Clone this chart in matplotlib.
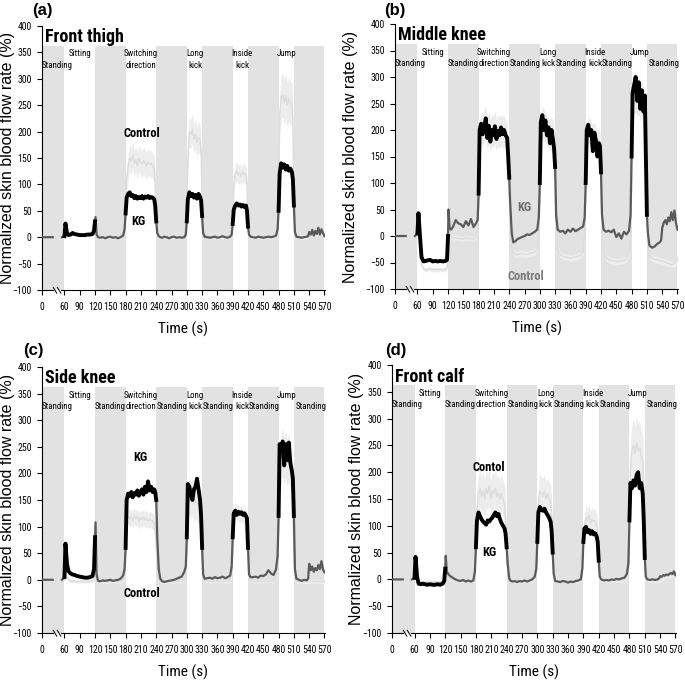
"""
Skin blood flow rate during standing / sitting / exercise for four measuring sites,
KG compared with the control garment.
"""
import numpy as np
import matplotlib
matplotlib.use('Agg')
import matplotlib.pyplot as plt
from matplotlib import font_manager as fm

names = {f.name for f in fm.fontManager.ttflist}
NARROW, NSCALE = 'Liberation Sans', 0.82
for cand in ['Liberation Sans Narrow', 'Roboto Condensed', 'Open Sans Condensed', 'Arial Narrow']:
    if cand in names:
        NARROW, NSCALE = cand, 1.0
        break
REGULAR = 'Liberation Sans'
nan = np.nan

# time grid (s), one chunk per protocol segment (the start of the record is on a broken axis)
T_CHUNKS = [
    [16, 37, 45, 55],
    [60, 62, 65, 68, 72, 76, 80, 85, 90, 95, 100, 105, 110, 115, 118, 120],
    [121, 123, 126, 130, 135, 140, 145, 150, 155, 160, 165, 170, 175, 178, 180],
    [182, 185, 188, 191, 194, 197, 200, 203, 206, 209, 212, 215, 218, 221, 224, 227, 230, 233, 236, 238, 240],
    [242, 245, 248, 252, 256, 260, 265, 270, 275, 280, 285, 290, 295, 298, 300],
    [302, 305, 308, 311, 314, 317, 320, 323, 326, 328, 330],
    [332, 335, 340, 345, 350, 355, 360, 365, 370, 375, 380, 385, 388, 390],
    [392, 395, 398, 401, 404, 407, 410, 413, 416, 418, 420],
    [422, 425, 430, 435, 440, 445, 450, 455, 460, 465, 470, 475, 478, 480],
    [482, 485, 488, 491, 494, 497, 500, 503, 506, 508, 510],
    [512, 515, 520, 525, 530, 535, 538, 540, 543, 546, 549, 552, 555, 558, 561, 564, 567, 570],
]

SEG_EDGES = [16, 60, 120, 180, 240, 300, 330, 390, 420, 480, 510, 571]
SEG_NAMES = ['Standing', 'Sitting', 'Standing', 'Switching\ndirection', 'Standing',
             'Long\nkick', 'Standing', 'Inside\nkick', 'Standing', 'Jump', 'Standing']
SEG_LABEL_X = [45, 90, 150, 210, 272, 316, 362, 408, 452, 496, 543]

TITLES = ['Front thigh', 'Middle knee', 'Side knee', 'Front calf']
TAGS = ['(a)', '(b)', '(c)', '(d)']

# normalized skin blood flow rate (%), KG
KG_A = [
    [0, 0, nan, 0],
    [2, 26, 8, 4, 5, 8, 6, 5, 4, 4, 4, 5, 5, 6, 12, 30],
    [38, 5, 0, -1, 0, -2, 0, 1, -1, 0, -2, 0, 3, 15, 45],
    [75, 82, 85, 78, 80, 74, 78, 73, 76, 74, 78, 73, 77, 75, 78, 74, 76, 75, 72, 60, 30],
    [8, 2, 0, -1, 1, 0, -2, 0, 1, -1, 0, -1, 0, 5, 30],
    [72, 85, 78, 82, 75, 80, 73, 82, 76, 70, 40],
    [8, 1, 0, -1, 0, 1, -1, 0, 2, 0, -1, 1, 5, 25],
    [52, 60, 64, 60, 62, 58, 61, 57, 60, 50, 20],
    [5, 1, 0, -1, 1, 0, -1, 0, 1, 0, 1, 3, 15, 50],
    [120, 140, 132, 138, 128, 135, 126, 130, 124, 110, 60],
    [10, 1, 0, -1, 0, 1, 2, 10, 5, 14, 3, 12, 6, 18, 5, 15, 8, 2],
]
KG_B = [
    [0, 0, nan, 0],
    [5, 43, 0, -40, -48, -47, -46, -45, -48, -47, -48, -47, -48, -47, -45, 0],
    [50, 15, 12, 18, 30, 24, 22, 17, 28, 20, 32, 17, 24, 30, 80],
    [200, 212, 192, 205, 222, 185, 208, 178, 200, 190, 207, 183, 198, 190, 205, 192, 200, 190, 185, 150, 110],
    [60, 5, -12, -10, -6, -4, -2, 0, 3, 2, 5, 8, 12, 35, 100],
    [215, 228, 200, 218, 190, 205, 175, 200, 180, 165, 130],
    [40, 12, 8, 10, 5, 12, 8, 14, 9, 12, 15, 18, 35, 100],
    [200, 210, 190, 200, 160, 195, 180, 150, 175, 170, 120],
    [40, 12, 8, 10, 7, 12, -2, 5, -5, 8, 3, 10, 40, 150],
    [270, 285, 300, 255, 290, 240, 275, 235, 265, 150, 40],
    [5, -18, -22, -20, -15, -12, -8, 15, 25, 30, 22, 35, 28, 45, 30, 48, 25, 12],
]
KG_C = [
    [0, 0, nan, 0],
    [5, 68, 30, 16, 12, 10, 9, 7, 6, 5, 4, 4, 5, 7, 20, 80],
    [108, 10, -2, -3, -1, -2, -1, 0, -2, -1, 0, 2, 8, 20, 60],
    [150, 162, 158, 165, 155, 163, 160, 168, 158, 165, 170, 160, 175, 165, 185, 168, 175, 165, 170, 165, 150],
    [80, 20, 2, -3, -4, -3, -2, -1, 0, 2, 4, 6, 15, 25, 80],
    [180, 175, 160, 150, 170, 175, 190, 170, 150, 120, 60],
    [10, 2, 3, 4, 2, 5, 3, 4, 6, 3, 5, 8, 25, 80],
    [125, 130, 122, 128, 124, 127, 122, 125, 120, 115, 60],
    [10, 5, 5, 6, 4, 8, 7, 10, 18, 12, 9, 20, 45, 120],
    [255, 240, 260, 215, 255, 225, 258, 220, 205, 190, 120],
    [20, 2, 0, -2, 0, -1, 2, 30, 18, 25, 15, 22, 18, 28, 20, 35, 20, 14],
]
KG_D = [
    [0, 0, nan, 0],
    [3, 42, 5, -8, -9, -8, -9, -10, -9, -10, -10, -9, -10, -8, -3, 20],
    [44, 15, 10, 6, 3, 0, -2, -3, -1, -4, -2, -4, -2, 15, 60],
    [110, 125, 118, 112, 108, 105, 102, 110, 108, 112, 115, 120, 125, 118, 122, 112, 105, 100, 95, 85, 60],
    [30, 2, -3, -4, -3, -5, -3, -4, -2, -4, -2, 0, 5, 20, 70],
    [125, 135, 130, 128, 132, 125, 120, 115, 108, 90, 50],
    [10, -3, -4, -5, -3, -4, -6, -4, -5, -3, -2, 0, 20, 70],
    [95, 98, 88, 92, 85, 90, 84, 86, 80, 70, 35],
    [5, 0, -2, -1, -2, 0, -1, 1, 0, 2, 3, 10, 30, 110],
    [180, 170, 185, 175, 195, 200, 170, 180, 160, 110, 40],
    [5, 0, -1, 0, -1, 0, 2, 6, 5, 8, 7, 9, 8, 10, 12, 10, 15, 8],
]

# control garment (mean) and its spread per segment
CTL_A = [
    [nan, nan, nan, nan],
    [0, 20, 8, 5, 5, 6, 5, 5, 4, 4, 4, 4, 5, 5, 10, 25],
    [30, 5, 0, 0, 0, 0, 0, 0, 0, 0, 0, 0, 2, 20, 60],
    [110, 135, 150, 145, 155, 140, 148, 135, 150, 142, 138, 145, 140, 135, 142, 138, 140, 135, 130, 100, 40],
    [10, 3, 0, 0, 0, 0, 0, 0, 0, 0, 0, 0, 2, 8, 40],
    [150, 200, 195, 205, 185, 195, 180, 190, 185, 160, 60],
    [10, 2, 0, 0, 0, 0, 0, 0, 0, 0, 0, 0, 8, 30],
    [100, 120, 125, 118, 122, 115, 124, 118, 120, 100, 30],
    [8, 2, 0, 0, 0, 0, 0, 0, 0, 0, 0, 2, 20, 80],
    [230, 265, 270, 255, 268, 250, 262, 255, 250, 220, 80],
    [12, 3, 0, 0, 0, 0, 0, 2, 4, 6, 4, 8, 5, 10, 6, 9, 7, 4],
]
CTL_B = [
    [nan, nan, nan, nan],
    [0, 20, -20, -55, -62, -64, -63, -62, -64, -63, -64, -63, -64, -63, -60, -20],
    [30, 5, 0, -5, -3, -5, -4, -6, -3, -5, -4, -6, -2, 10, 60],
    [190, 205, 200, 210, 215, 195, 205, 190, 200, 195, 205, 190, 200, 195, 200, 195, 198, 190, 180, 140, 80],
    [20, -20, -32, -35, -35, -34, -33, -35, -34, -33, -32, -30, -25, 0, 80],
    [200, 215, 210, 205, 200, 195, 190, 195, 185, 170, 120],
    [10, -25, -35, -38, -40, -40, -42, -40, -40, -38, -36, -30, 0, 80],
    [190, 200, 195, 190, 185, 190, 180, 175, 180, 170, 100],
    [10, -25, -40, -45, -46, -47, -48, -48, -47, -46, -44, -30, 0, 100],
    [240, 265, 270, 260, 265, 250, 260, 245, 240, 170, 60],
    [-10, -35, -42, -44, -45, -46, -47, -48, -48, -50, -50, -52, -52, -55, -53, -52, -48, -42],
]
CTL_C = [
    [nan, nan, nan, nan],
    [0, 20, 5, 0, -2, -3, -3, -3, -3, -3, -3, -3, -3, -2, 0, 5],
    [10, 0, -3, -3, -3, -3, -3, -3, -3, -3, -3, -3, 0, 10, 50],
    [110, 120, 115, 118, 112, 120, 115, 118, 110, 116, 113, 118, 112, 115, 110, 114, 112, 110, 108, 90, 60],
    [20, 0, -3, -3, -3, -3, -3, -3, -3, -3, -3, -3, 0, 10, 60],
    [140, 160, 150, 155, 145, 150, 145, 140, 135, 120, 60],
    [5, -2, -3, -3, -3, -3, -3, -3, -3, -3, -3, -2, 10, 60],
    [120, 130, 128, 125, 122, 125, 120, 118, 115, 100, 40],
    [5, 0, -3, -3, -3, -3, -3, -3, -3, -3, -3, 10, 30, 100],
    [200, 230, 240, 225, 235, 220, 230, 215, 200, 150, 60],
    [10, -2, -3, -3, -3, -3, -3, -3, -3, -3, -3, -3, -3, -3, -3, -3, -3, -3],
]
CTL_D = [
    [nan, nan, nan, nan],
    [0, 25, 0, -4, -5, -5, -5, -5, -5, -5, -5, -5, -5, -4, -2, 20],
    [30, 10, 5, 2, 0, -2, -2, -3, -3, -3, -3, -3, -2, 10, 60],
    [130, 160, 170, 155, 165, 150, 170, 160, 175, 150, 165, 160, 170, 155, 160, 150, 160, 150, 140, 110, 60],
    [20, 0, -3, -3, -3, -3, -3, -3, -3, -3, -3, -2, 2, 15, 60],
    [140, 165, 160, 155, 165, 150, 160, 150, 145, 120, 60],
    [10, -2, -3, -3, -3, -3, -3, -3, -3, -3, -3, -1, 15, 60],
    [100, 115, 110, 120, 105, 112, 108, 110, 100, 90, 40],
    [5, -1, -2, -2, -2, -2, -2, -2, -2, -2, -1, 5, 20, 100],
    [210, 240, 250, 235, 255, 240, 245, 230, 220, 160, 60],
    [8, 0, -2, -2, -2, -2, -2, 0, 2, 4, 4, 5, 6, 7, 8, 8, 10, 6],
]
CTL_SPREAD_A = [0, 3, 3, 25, 3, 28, 3, 18, 3, 42, 4]
CTL_SPREAD_B = [0, 4, 5, 30, 6, 30, 6, 25, 6, 35, 6]
CTL_SPREAD_C = [0, 3, 3, 15, 3, 35, 3, 15, 3, 45, 4]
CTL_SPREAD_D = [0, 3, 3, 35, 3, 32, 3, 22, 3, 50, 4]

# in-plot annotations: (text, x, y, colour)
NOTES = [
    [('Control', 211, 197, 'black'), ('KG', 205, 29, 'black')],
    [('KG', 269, 54, '#6e6e6e'), ('Control', 273, -76, '#7a7a7a')],
    [('KG', 208, 230, 'black'), ('Control', 212, -25, 'black')],
    [('Contol', 206, 209, 'black'), ('KG', 207, 50, 'black')],
]

# axes boxes in pixels: left, top, right, bottom ; tag position ; ylabel x
FIG_W, FIG_H = 685, 686
BOXES = [(42, 26, 325, 290), (395, 24, 678, 289), (42, 367, 325, 633), (392, 365, 676, 633)]
TAG_POS = [(32, 11), (384, 11), (23, 351), (385, 351)]
YLAB_X = [8, 351, 8, 356]

BAND = '#e2e2e2'
KG_GRAY = '#5a5a5a'

T = np.array(sum(T_CHUNKS, []), float)
sizes = [len(c) for c in T_CHUNKS]
kg_all = [KG_A, KG_B, KG_C, KG_D]
ctl_all = [CTL_A, CTL_B, CTL_C, CTL_D]
spread_all = [CTL_SPREAD_A, CTL_SPREAD_B, CTL_SPREAD_C, CTL_SPREAD_D]
for series in kg_all + ctl_all:
    if [len(c) for c in series] != sizes:
        raise ValueError('chunk sizes do not match the time grid')


def nfs(size):
    # font size for the narrow face (shrunk when only a normal-width face is there)
    return size * NSCALE


fig = plt.figure(figsize=(FIG_W / 100, FIG_H / 100), dpi=100)

for p in range(4):
    l, t, r, b = BOXES[p]
    ax = fig.add_axes([l / FIG_W, 1 - b / FIG_H, (r - l) / FIG_W, (b - t) / FIG_H])
    ax.set_xlim(16, 571)
    ax.set_ylim(-100, 400)

    # protocol bands
    for i in range(len(SEG_NAMES)):
        lo, hi = SEG_EDGES[i], SEG_EDGES[i + 1]
        if i % 2 == 0:
            ax.bar(lo, 462, bottom=-100, width=min(hi, 570) - lo, align='edge',
                   color=BAND, lw=0, zorder=0)
        name = SEG_NAMES[i]
        if name == 'Standing' and p == 0 and i > 0:
            continue
        lines = name.split('\n')
        if len(lines) == 2:
            ax.text(SEG_LABEL_X[i], 347, lines[0], ha='center', va='center',
                    fontsize=nfs(6.4), family=NARROW, zorder=6)
            ax.text(SEG_LABEL_X[i], 326, lines[1], ha='center', va='center',
                    fontsize=nfs(6.4), family=NARROW, zorder=6)
        else:
            yy = 326 if name == 'Standing' else 347
            ax.text(SEG_LABEL_X[i], yy, name, ha='center', va='center',
                    fontsize=nfs(6.4), family=NARROW, zorder=6)

    # control garment
    ctl = np.array(sum(ctl_all[p], []), float)
    spread = np.repeat(spread_all[p], sizes)
    ok = ~np.isnan(ctl)
    ax.fill_between(T[ok], (ctl - spread)[ok], (ctl + spread)[ok],
                    color='#ededed', lw=0, zorder=1)
    ax.plot(T, ctl, color='#dcdcdc', lw=1.0, zorder=2)

    # KG: grey while standing, black while sitting / exercising
    kg = np.array(sum(kg_all[p], []), float)
    ax.plot(T, kg, color=KG_GRAY, lw=1.6, zorder=3)
    for i in range(1, len(SEG_NAMES), 2):
        m = (T >= SEG_EDGES[i]) & (T <= SEG_EDGES[i + 1])
        ax.plot(T[m], kg[m], color='black', lw=2.8, zorder=4)

    for txt, xx, yy, col in NOTES[p]:
        ax.text(xx, yy, txt, ha='center', va='center', fontsize=nfs(9),
                fontweight='bold', family=NARROW, color=col, zorder=6)

    ax.text(22, 369, TITLES[p], ha='left', va='baseline', fontsize=nfs(13),
            fontweight='bold', family=NARROW)

    # axes: only left spine, broken bottom axis drawn by hand
    for s in ['top', 'right', 'bottom']:
        ax.spines[s].set_visible(False)
    ax.spines['left'].set_linewidth(0.8)
    ax.plot([16, 38], [-100, -100], color='black', lw=0.8, clip_on=False, zorder=7)
    ax.plot([54, 571], [-100, -100], color='black', lw=0.8, clip_on=False, zorder=7)
    ax.plot([38, 45], [-95, -106], color='black', lw=0.7, clip_on=False, zorder=7)
    ax.plot([46, 53], [-95, -106], color='black', lw=0.7, clip_on=False, zorder=7)

    xt = [16] + list(range(60, 571, 30))
    ax.set_xticks(xt)
    ax.set_xticklabels(['0'] + [str(v) for v in range(60, 571, 30)])
    ax.set_yticks(range(-100, 401, 50))
    ax.tick_params(direction='out', length=3.5, width=0.8, pad=4, labelsize=nfs(7))
    ax.tick_params(axis='x', pad=5)
    for lab in ax.get_xticklabels() + ax.get_yticklabels():
        lab.set_family(NARROW)

    ax.set_xlabel('Time (s)', fontsize=nfs(11), family=NARROW, labelpad=7)

    fig.text(YLAB_X[p] / FIG_W, 1 - (t + b) / 2 / FIG_H, 'Normalized skin blood flow rate (%)',
             rotation=90, ha='center', va='center', fontsize=11.5, family=REGULAR)
    fig.text(TAG_POS[p][0] / FIG_W, 1 - TAG_POS[p][1] / FIG_H, TAGS[p], ha='left',
             va='center', fontsize=12, fontweight='bold', family=REGULAR)

fig.savefig('out.png', dpi=100)
